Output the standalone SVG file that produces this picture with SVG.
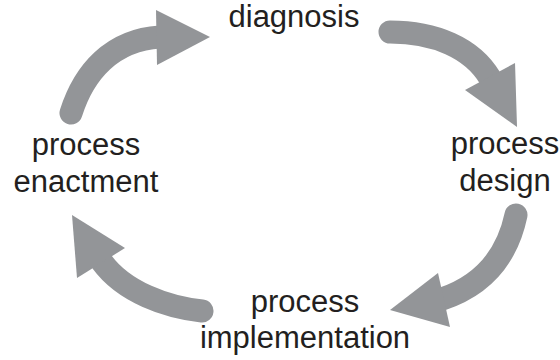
<svg xmlns="http://www.w3.org/2000/svg" width="560" height="360" viewBox="0 0 560 360">
<style>
.lbl{font-family:"Liberation Sans",Arial,sans-serif;font-size:31px;fill:#231f20;text-anchor:middle}
.shaft{fill:none;stroke:#939598;stroke-width:23;stroke-linecap:round}
.head{fill:#939598}
</style>
<rect width="560" height="360" fill="#ffffff"/>
<g id="connectors">
<path class="shaft" d="M71,113 C84,72 112,40 160,37"/>
<polygon class="head" points="156,10 210,37 157,65"/>
<path class="shaft" d="M390,32 C435,32 472,48 490,78"/>
<polygon class="head" points="465,90 517,127 515,63"/>
<path class="shaft" d="M516,215 C506,262 478,287 442,299"/>
<polygon class="head" points="438,273 390,310 450,327"/>
<path class="shaft" d="M202,311 C166,307 124,292 102,262"/>
<polygon class="head" points="77,278 72,215 125,248"/>
</g>
<g id="diagnosis"><text class="lbl" x="294" y="27">diagnosis</text></g>
<g id="design"><text class="lbl" x="505" y="154">process</text><text class="lbl" x="505" y="191">design</text></g>
<g id="implementation"><text class="lbl" x="305" y="312">process</text><text class="lbl" x="305" y="348">implementation</text></g>
<g id="enactment"><text class="lbl" x="86" y="155">process</text><text class="lbl" x="86" y="192">enactment</text></g>
</svg>
